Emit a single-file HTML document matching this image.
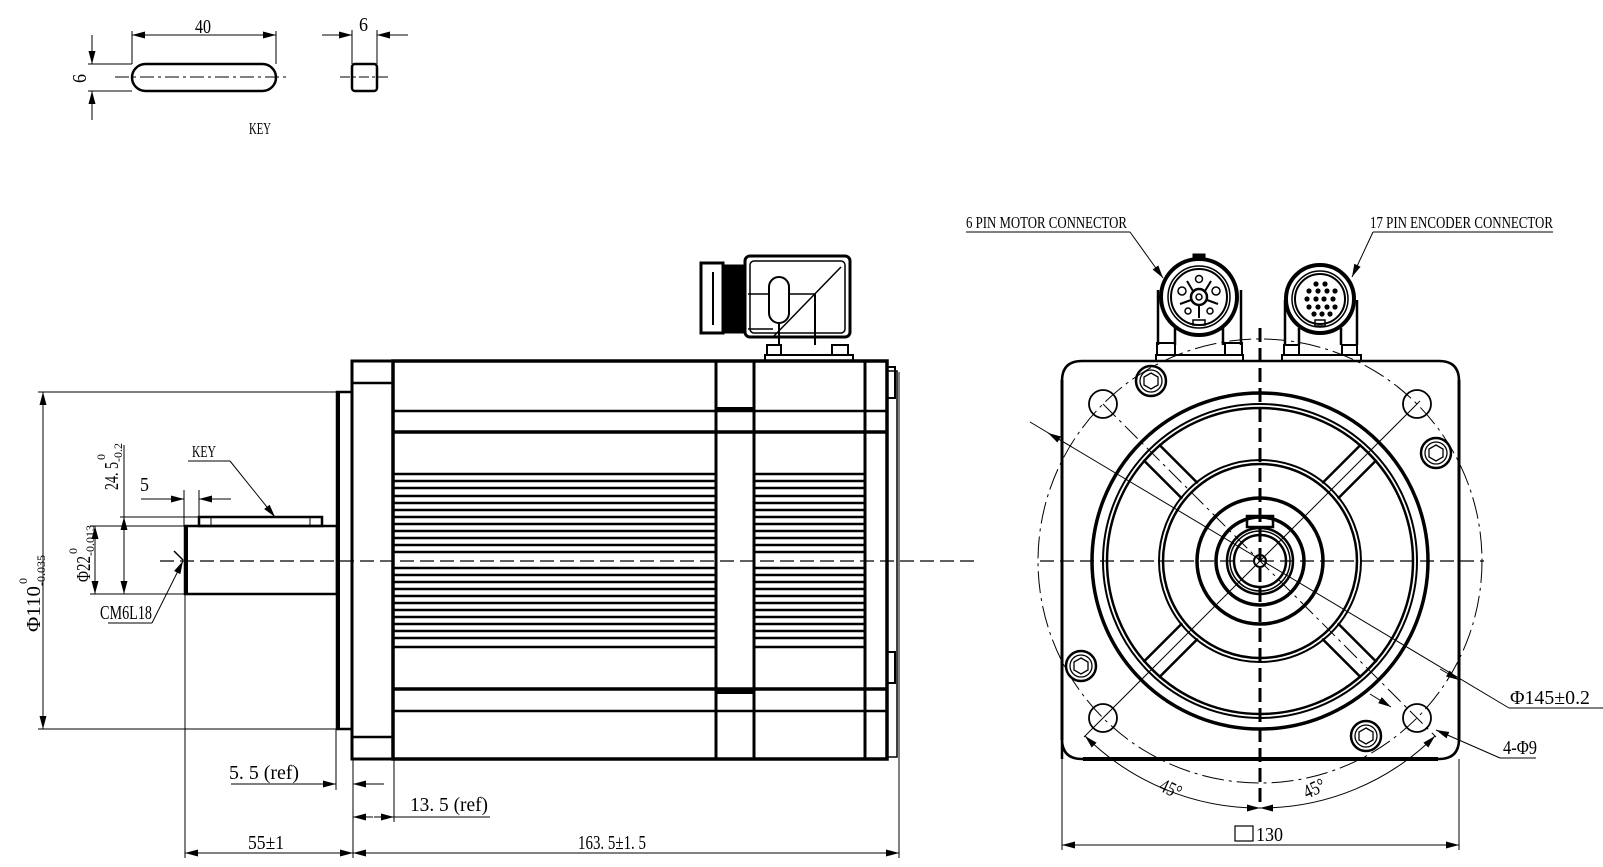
<!DOCTYPE html>
<html><head><meta charset="utf-8"><style>
html,body{margin:0;padding:0;background:#fff;}
svg{display:block;}
text{font-family:"Liberation Serif","DejaVu Serif",serif;fill:#000;}
</style></head><body>
<svg width="1603" height="867" viewBox="0 0 1603 867" xmlns="http://www.w3.org/2000/svg">
<defs>
<marker id="a" markerUnits="userSpaceOnUse" markerWidth="14" markerHeight="8" refX="13" refY="3.5" orient="auto-start-reverse"><path d="M0,0 L13,3.5 L0,7 z" fill="#000"/></marker>
</defs>
<g fill="none" stroke="#000">
<rect x="132" y="64" width="144" height="27" rx="13.5" stroke-width="2.5"/>
<line x1="115" y1="77" x2="288" y2="77" stroke-width="1" stroke-dasharray="14,4,3,4"/>
<line x1="132" y1="31" x2="132" y2="64" stroke-width="1"/>
<line x1="276" y1="31" x2="276" y2="64" stroke-width="1"/>
<line x1="132" y1="35" x2="276" y2="35" stroke-width="1" marker-start="url(#a)" marker-end="url(#a)"/>
<line x1="88" y1="64" x2="132" y2="64" stroke-width="1"/>
<line x1="88" y1="91" x2="132" y2="91" stroke-width="1"/>
<line x1="92" y1="35" x2="92" y2="64" stroke-width="1" marker-end="url(#a)"/>
<line x1="92" y1="120" x2="92" y2="91" stroke-width="1" marker-end="url(#a)"/>
<rect x="352" y="64" width="25" height="27" rx="3" stroke-width="2.5"/>
<line x1="340" y1="77" x2="390" y2="77" stroke-width="1" stroke-dasharray="10,3,3,3"/>
<line x1="352" y1="30" x2="352" y2="64" stroke-width="1"/>
<line x1="377" y1="30" x2="377" y2="64" stroke-width="1"/>
<line x1="322" y1="35" x2="352" y2="35" stroke-width="1" marker-end="url(#a)"/>
<line x1="408" y1="35" x2="377" y2="35" stroke-width="1" marker-end="url(#a)"/>

<line x1="160" y1="561" x2="976" y2="561" stroke-width="1.2" stroke-dasharray="14,6"/>
<rect x="185" y="526" width="152" height="68" stroke-width="2.5"/>
<line x1="186" y1="527" x2="186" y2="593" stroke-width="4"/>
<rect x="199" y="517" width="123" height="9" stroke-width="2.5"/>
<line x1="211" y1="517" x2="211" y2="526" stroke-width="1"/>
<line x1="310" y1="517" x2="310" y2="526" stroke-width="1"/>
<rect x="337" y="392" width="15" height="337" stroke-width="2.5"/>
<line x1="338" y1="392" x2="338" y2="729" stroke-width="4"/>
<rect x="352" y="361" width="41" height="398" stroke-width="3"/>
<line x1="352" y1="383" x2="393" y2="383" stroke-width="2.5"/>
<line x1="352" y1="737" x2="393" y2="737" stroke-width="2.5"/>
<rect x="393" y="361" width="494" height="398" stroke-width="3.5"/>
<line x1="393" y1="411" x2="887" y2="411" stroke-width="2.5"/>
<line x1="393" y1="432" x2="887" y2="432" stroke-width="3.5"/>
<line x1="393" y1="689" x2="887" y2="689" stroke-width="3.5"/>
<line x1="393" y1="711" x2="887" y2="711" stroke-width="2.5"/>
<line x1="716" y1="361" x2="716" y2="759" stroke-width="3"/>
<line x1="754" y1="361" x2="754" y2="759" stroke-width="3"/>
<line x1="865" y1="361" x2="865" y2="759" stroke-width="3"/>
<line x1="716" y1="409" x2="754" y2="409" stroke-width="4"/>
<line x1="716" y1="692" x2="754" y2="692" stroke-width="4"/>
<path d="M887,367 L895,367 L895,398 L887,398" stroke-width="2"/>
<path d="M887,652 L895,652 L895,683 L887,683" stroke-width="2"/>
<path d="M887,371 L897,371 L897,757 L887,757" stroke-width="1.5"/>
<line x1="899" y1="372" x2="899" y2="757" stroke-width="1"/>
<g stroke-width="2.6">
<line x1="394" y1="474" x2="715" y2="474"/><line x1="394" y1="481" x2="715" y2="481"/><line x1="394" y1="488" x2="715" y2="488"/><line x1="394" y1="496" x2="715" y2="496"/><line x1="394" y1="503" x2="715" y2="503"/><line x1="394" y1="510" x2="715" y2="510"/><line x1="394" y1="517" x2="715" y2="517"/><line x1="394" y1="524" x2="715" y2="524"/><line x1="394" y1="531" x2="715" y2="531"/><line x1="394" y1="538" x2="715" y2="538"/><line x1="394" y1="545" x2="715" y2="545"/><line x1="394" y1="552" x2="715" y2="552"/>
<line x1="394" y1="568" x2="715" y2="568"/><line x1="394" y1="575" x2="715" y2="575"/><line x1="394" y1="582" x2="715" y2="582"/><line x1="394" y1="589" x2="715" y2="589"/><line x1="394" y1="596" x2="715" y2="596"/><line x1="394" y1="603" x2="715" y2="603"/><line x1="394" y1="610" x2="715" y2="610"/><line x1="394" y1="617" x2="715" y2="617"/><line x1="394" y1="624" x2="715" y2="624"/><line x1="394" y1="631" x2="715" y2="631"/><line x1="394" y1="638" x2="715" y2="638"/><line x1="394" y1="647" x2="715" y2="647"/>
<line x1="755" y1="474" x2="864" y2="474"/><line x1="755" y1="481" x2="864" y2="481"/><line x1="755" y1="488" x2="864" y2="488"/><line x1="755" y1="496" x2="864" y2="496"/><line x1="755" y1="503" x2="864" y2="503"/><line x1="755" y1="510" x2="864" y2="510"/><line x1="755" y1="517" x2="864" y2="517"/><line x1="755" y1="524" x2="864" y2="524"/><line x1="755" y1="531" x2="864" y2="531"/><line x1="755" y1="538" x2="864" y2="538"/><line x1="755" y1="545" x2="864" y2="545"/><line x1="755" y1="552" x2="864" y2="552"/>
<line x1="755" y1="568" x2="864" y2="568"/><line x1="755" y1="575" x2="864" y2="575"/><line x1="755" y1="582" x2="864" y2="582"/><line x1="755" y1="589" x2="864" y2="589"/><line x1="755" y1="596" x2="864" y2="596"/><line x1="755" y1="603" x2="864" y2="603"/><line x1="755" y1="610" x2="864" y2="610"/><line x1="755" y1="617" x2="864" y2="617"/><line x1="755" y1="624" x2="864" y2="624"/><line x1="755" y1="631" x2="864" y2="631"/><line x1="755" y1="638" x2="864" y2="638"/><line x1="755" y1="647" x2="864" y2="647"/>
</g>
<rect x="701" y="263" width="22" height="70" stroke-width="3"/>
<line x1="713" y1="272" x2="713" y2="325" stroke-width="2"/>
<rect x="723" y="265" width="22" height="68" fill="#000" stroke-width="1"/>
<rect x="745" y="256" width="105" height="81" rx="5" stroke-width="3"/>
<rect x="750" y="261" width="95" height="72" rx="4" stroke-width="1.5"/>
<rect x="769" y="277" width="20" height="46" rx="10" stroke-width="2"/>
<line x1="748" y1="294" x2="769" y2="294" stroke-width="1.5"/><line x1="789" y1="294" x2="815" y2="294" stroke-width="1.5"/>
<line x1="748" y1="329" x2="773" y2="329" stroke-width="1.5"/>
<line x1="841" y1="267" x2="773" y2="337" stroke-width="1.5"/>
<line x1="815" y1="294" x2="815" y2="345" stroke-width="2"/>
<line x1="779" y1="322" x2="779" y2="345" stroke-width="2"/>
<rect x="767" y="345" width="14" height="10" stroke-width="2"/>
<rect x="832" y="345" width="16" height="10" stroke-width="2"/>
<rect x="765" y="355" width="88" height="6" stroke-width="2"/>
<line x1="38" y1="392" x2="337" y2="392" stroke-width="1"/>
<line x1="38" y1="729" x2="337" y2="729" stroke-width="1"/>
<line x1="43" y1="392" x2="43" y2="729" stroke-width="1" marker-start="url(#a)" marker-end="url(#a)"/>
<line x1="90" y1="526" x2="185" y2="526" stroke-width="1"/>
<line x1="90" y1="594" x2="185" y2="594" stroke-width="1"/>
<line x1="95" y1="526" x2="95" y2="594" stroke-width="1" marker-start="url(#a)" marker-end="url(#a)"/>
<line x1="120" y1="517" x2="199" y2="517" stroke-width="1"/>
<line x1="124" y1="445" x2="124" y2="594" stroke-width="1"/>
<line x1="124" y1="517" x2="124" y2="594" stroke-width="1" marker-start="url(#a)" marker-end="url(#a)"/>
<line x1="184" y1="490" x2="184" y2="526" stroke-width="1"/>
<line x1="199" y1="490" x2="199" y2="517" stroke-width="1"/>
<line x1="141" y1="499" x2="184" y2="499" stroke-width="1" marker-end="url(#a)"/>
<line x1="231" y1="499" x2="199" y2="499" stroke-width="1" marker-end="url(#a)"/>
<line x1="188" y1="461" x2="230" y2="461" stroke-width="1"/>
<line x1="230" y1="461" x2="275" y2="517" stroke-width="1" marker-end="url(#a)"/>
<line x1="108" y1="623" x2="152" y2="623" stroke-width="1"/>
<line x1="152" y1="623" x2="183" y2="561" stroke-width="1" marker-end="url(#a)"/>
<line x1="174" y1="551" x2="183" y2="560" stroke-width="1.5"/>
<line x1="185" y1="595" x2="185" y2="858" stroke-width="1"/>
<line x1="336" y1="729" x2="336" y2="790" stroke-width="1"/>
<line x1="353" y1="759" x2="353" y2="858" stroke-width="1"/>
<line x1="394" y1="759" x2="394" y2="822" stroke-width="1"/>
<line x1="899" y1="757" x2="899" y2="858" stroke-width="1"/>
<line x1="231" y1="784" x2="336" y2="784" stroke-width="1" marker-end="url(#a)"/>
<line x1="384" y1="784" x2="353" y2="784" stroke-width="1" marker-end="url(#a)"/>
<line x1="373" y1="817" x2="353" y2="817" stroke-width="1" marker-end="url(#a)"/>
<line x1="374" y1="817" x2="394" y2="817" stroke-width="1" marker-end="url(#a)"/>
<line x1="394" y1="817" x2="490" y2="817" stroke-width="1"/>
<line x1="185" y1="853" x2="353" y2="853" stroke-width="1" marker-start="url(#a)" marker-end="url(#a)"/>
<line x1="353" y1="853" x2="899" y2="853" stroke-width="1" marker-start="url(#a)" marker-end="url(#a)"/>

<path d="M1062,759 L1062,381 Q1062,361 1082,361 L1439,361 Q1459,361 1459,381 L1459,739 Q1459,759 1439,759 L1082,759 Q1062,759 1062,739 Z" stroke-width="2.5"/>
<line x1="1083" y1="759" x2="1438" y2="759" stroke-width="4"/>
<line x1="1062" y1="380" x2="1062" y2="740" stroke-width="3"/>
<line x1="1459" y1="380" x2="1459" y2="740" stroke-width="3"/>
<circle cx="1260" cy="561" r="222" stroke-width="1" stroke-dasharray="22,5,3,5"/>
<circle cx="1260" cy="561" r="168" stroke-width="3.5"/>
<circle cx="1260" cy="561" r="157" stroke-width="2"/>
<circle cx="1260" cy="561" r="153" stroke-width="2.5"/>
<circle cx="1260" cy="561" r="101" stroke-width="2"/>
<circle cx="1260" cy="561" r="97" stroke-width="2.5"/>
<circle cx="1260" cy="561" r="63" stroke-width="3.5"/>
<circle cx="1260" cy="561" r="44" stroke-width="3.5"/>
<circle cx="1260" cy="561" r="33" stroke-width="2.5"/>
<circle cx="1260" cy="561" r="30" stroke-width="1.5"/>
<circle cx="1260" cy="561" r="26" stroke-width="2.5"/>
<circle cx="1260" cy="561" r="6" stroke-width="2"/>
<rect x="1247" y="516" width="26" height="11" stroke-width="2.5"/>
<g stroke-width="2.5">
<g transform="rotate(45 1260 561)"><line x1="1249" y1="462" x2="1249" y2="407"/><line x1="1271" y1="462" x2="1271" y2="407"/><line x1="1249" y1="660" x2="1249" y2="715"/><line x1="1271" y1="660" x2="1271" y2="715"/></g>
<g transform="rotate(-45 1260 561)"><line x1="1249" y1="462" x2="1249" y2="407"/><line x1="1271" y1="462" x2="1271" y2="407"/><line x1="1249" y1="660" x2="1249" y2="715"/><line x1="1271" y1="660" x2="1271" y2="715"/></g>
</g>
<g stroke-width="1.8"><circle cx="1103" cy="404" r="14"/><circle cx="1417" cy="404" r="14"/><circle cx="1103" cy="718" r="14"/><circle cx="1417" cy="718" r="14"/></g>
<g stroke-width="2.5">
<circle cx="1151" cy="381" r="15"/><circle cx="1436" cy="453" r="15"/><circle cx="1081" cy="666" r="15"/><circle cx="1366" cy="736" r="15"/>
</g>
<g stroke-width="1.3">
<circle cx="1151" cy="381" r="11"/><circle cx="1436" cy="453" r="11"/><circle cx="1081" cy="666" r="11"/><circle cx="1366" cy="736" r="11"/>
<polygon points="1151,373 1158,377 1158,385 1151,389 1144,385 1144,377"/>
<polygon points="1436,445 1443,449 1443,457 1436,461 1429,457 1429,449"/>
<polygon points="1081,658 1088,662 1088,670 1081,674 1074,670 1074,662"/>
<polygon points="1366,728 1373,732 1373,740 1366,744 1359,740 1359,732"/>
</g>
<line x1="1260" y1="328" x2="1260" y2="808" stroke-width="3" stroke-dasharray="14,6"/>
<line x1="1040" y1="561" x2="1484" y2="561" stroke-width="1.3" stroke-dasharray="14,6"/>
<line x1="1084" y1="737" x2="1420" y2="401" stroke-width="1"/>
<line x1="1103" y1="404" x2="1436" y2="737" stroke-width="1" stroke-dasharray="18,5,3,5"/>
<line x1="1030" y1="422" x2="1509" y2="708" stroke-width="1"/>
<line x1="1509" y1="708" x2="1603" y2="708" stroke-width="1"/>
<line x1="1072" y1="447" x2="1048" y2="433" stroke-width="1" marker-end="url(#a)"/>
<line x1="1440" y1="669" x2="1459" y2="680" stroke-width="1" marker-end="url(#a)"/>
<line x1="1370" y1="694" x2="1391" y2="707" stroke-width="1" marker-end="url(#a)"/>
<line x1="1500" y1="758" x2="1436" y2="730" stroke-width="1" marker-end="url(#a)"/>
<line x1="1500" y1="758" x2="1536" y2="758" stroke-width="1"/>
<path d="M1085,736 A247,247 0 0 0 1260,808" stroke-width="1" marker-start="url(#a)" marker-end="url(#a)"/>
<path d="M1260,808 A247,247 0 0 0 1435,736" stroke-width="1" marker-start="url(#a)" marker-end="url(#a)"/>
<line x1="1062" y1="759" x2="1062" y2="850" stroke-width="1"/>
<line x1="1459" y1="759" x2="1459" y2="850" stroke-width="1"/>
<line x1="1062" y1="845" x2="1459" y2="845" stroke-width="1" marker-start="url(#a)" marker-end="url(#a)"/>
<rect x="1235" y="826" width="18" height="15" stroke-width="1.2"/>
<circle cx="1199" cy="297" r="38" stroke-width="4"/>
<circle cx="1199" cy="297" r="31" stroke-width="1.5"/>
<circle cx="1199" cy="297" r="28" stroke-width="2"/>
<circle cx="1199" cy="297" r="8" stroke-width="2.5"/>
<circle cx="1199" cy="297" r="3" stroke-width="1.5"/>
<circle cx="1199" cy="279" r="3.5" stroke-width="1.5"/><circle cx="1182" cy="291" r="4" stroke-width="1.5"/><circle cx="1216" cy="291" r="4" stroke-width="1.5"/><circle cx="1188" cy="311" r="3" stroke-width="1.5"/><circle cx="1210" cy="311" r="3" stroke-width="1.5"/>
<g stroke-width="2"><line x1="1193" y1="291" x2="1187" y2="281"/><line x1="1205" y1="291" x2="1211" y2="281"/><line x1="1191" y1="300" x2="1180" y2="304"/><line x1="1207" y1="300" x2="1218" y2="304"/><line x1="1199" y1="305" x2="1199" y2="318"/></g>
<rect x="1193" y="320" width="12" height="5" stroke-width="1.5"/>
<rect x="1193" y="254" width="12" height="5" fill="#000" stroke-width="1"/>
<line x1="1158" y1="290" x2="1158" y2="345" stroke-width="2.5"/>
<line x1="1241" y1="290" x2="1241" y2="345" stroke-width="2.5"/>
<line x1="1175" y1="328" x2="1175" y2="345" stroke-width="2.5"/>
<line x1="1223" y1="328" x2="1223" y2="345" stroke-width="2.5"/>
<rect x="1157" y="343" width="18" height="12" stroke-width="2"/>
<rect x="1225" y="343" width="17" height="12" stroke-width="2"/>
<rect x="1156" y="355" width="87" height="6" stroke-width="2"/>
<circle cx="1320" cy="299" r="34" stroke-width="4"/>
<circle cx="1320" cy="299" r="28" stroke-width="1.5"/>
<circle cx="1320" cy="299" r="25" stroke-width="2"/>
<rect x="1315" y="320" width="10" height="6" stroke-width="1.5"/>
<line x1="1285" y1="300" x2="1285" y2="345" stroke-width="2.5"/>
<line x1="1357" y1="300" x2="1357" y2="345" stroke-width="2.5"/>
<line x1="1299" y1="328" x2="1299" y2="345" stroke-width="2.5"/>
<line x1="1341" y1="328" x2="1341" y2="345" stroke-width="2.5"/>
<rect x="1284" y="345" width="15" height="10" stroke-width="2"/>
<rect x="1342" y="345" width="15" height="10" stroke-width="2"/>
<rect x="1282" y="355" width="79" height="6" stroke-width="2"/>
<line x1="966" y1="232" x2="1130" y2="232" stroke-width="1"/>
<line x1="1130" y1="232" x2="1163" y2="278" stroke-width="1" marker-end="url(#a)"/>
<line x1="1373" y1="232" x2="1553" y2="232" stroke-width="1"/>
<line x1="1373" y1="232" x2="1352" y2="277" stroke-width="1" marker-end="url(#a)"/>
</g>
<g fill="#000">
<circle cx="1316" cy="284" r="2.6"/><circle cx="1325" cy="284" r="2.6"/>
<circle cx="1309" cy="291" r="2.6"/><circle cx="1318" cy="291" r="2.6"/><circle cx="1327" cy="291" r="2.6"/><circle cx="1335" cy="291" r="2.6"/>
<circle cx="1307" cy="299" r="2.6"/><circle cx="1316" cy="299" r="2.6"/><circle cx="1324" cy="299" r="2.6"/><circle cx="1333" cy="299" r="2.6"/>
<circle cx="1309" cy="307" r="2.6"/><circle cx="1318" cy="307" r="2.6"/><circle cx="1327" cy="307" r="2.6"/><circle cx="1335" cy="307" r="2.6"/>
<circle cx="1314" cy="314" r="2.6"/><circle cx="1322" cy="314" r="2.6"/><circle cx="1330" cy="314" r="2.6"/>
</g>

<g font-size="20">
<text x="195" y="33" textLength="16" lengthAdjust="spacingAndGlyphs">40</text>
<text x="359" y="31" textLength="9" lengthAdjust="spacingAndGlyphs">6</text>
<text transform="translate(86,83) rotate(-90)" textLength="9" lengthAdjust="spacingAndGlyphs">6</text>
<text x="249" y="134" font-size="17" textLength="22" lengthAdjust="spacingAndGlyphs">KEY</text>
<text x="192" y="457" font-size="17" textLength="24" lengthAdjust="spacingAndGlyphs">KEY</text>
<text x="140" y="491" textLength="9" lengthAdjust="spacingAndGlyphs">5</text>
<text x="100" y="619" textLength="52" lengthAdjust="spacingAndGlyphs">CM6L18</text>
<text transform="translate(40,632) rotate(-90)"><tspan textLength="46" lengthAdjust="spacingAndGlyphs">Φ110</tspan><tspan font-size="12" dy="-13" dx="2">0</tspan><tspan font-size="12" dx="-8" dy="18">-0.035</tspan></text>
<text transform="translate(90,582) rotate(-90)"><tspan textLength="26" lengthAdjust="spacingAndGlyphs">Φ22</tspan><tspan font-size="12" dy="-13" dx="2">0</tspan><tspan font-size="12" dx="-8" dy="17">-0.013</tspan></text>
<text transform="translate(118,490) rotate(-90)"><tspan textLength="28" lengthAdjust="spacingAndGlyphs">24. 5</tspan><tspan font-size="12" dy="-13" dx="2">0</tspan><tspan font-size="12" dx="-8" dy="17">-0.2</tspan></text>
<text x="229" y="779" textLength="70" lengthAdjust="spacingAndGlyphs">5. 5 (ref)</text>
<text x="410" y="811" textLength="78" lengthAdjust="spacingAndGlyphs">13. 5 (ref)</text>
<text x="248" y="849" textLength="36" lengthAdjust="spacingAndGlyphs">55±1</text>
<text x="578" y="849" textLength="68" lengthAdjust="spacingAndGlyphs">163. 5±1. 5</text>
<text x="966" y="228" font-size="17" textLength="161" lengthAdjust="spacingAndGlyphs">6 PIN MOTOR CONNECTOR</text>
<text x="1370" y="228" font-size="17" textLength="183" lengthAdjust="spacingAndGlyphs">17 PIN ENCODER CONNECTOR</text>
<text x="1510" y="704" textLength="80" lengthAdjust="spacingAndGlyphs">Φ145±0.2</text>
<text x="1503" y="754" textLength="34" lengthAdjust="spacingAndGlyphs">4-Φ9</text>
<text transform="translate(1158,790) rotate(25)" textLength="22" lengthAdjust="spacingAndGlyphs">45°</text>
<text transform="translate(1307,799) rotate(-25)" textLength="22" lengthAdjust="spacingAndGlyphs">45°</text>
<text x="1256" y="841" textLength="27" lengthAdjust="spacingAndGlyphs">130</text>
</g>
</svg>
</body></html>
